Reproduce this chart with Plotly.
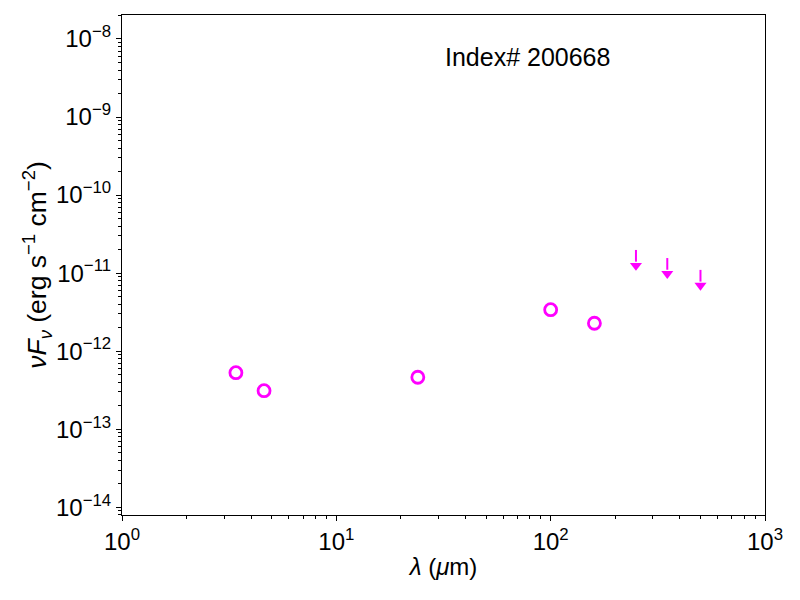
import numpy as np
import plotly.graph_objects as go

# detections (micron, erg s^-1 cm^-2)
wave = [3.4, 4.6, 24.0, 100.0, 160.0]
nufnu = [5.3e-13, 3.12e-13, 4.63e-13, 3.40e-12, 2.28e-12]

# upper limits
ul_wave = [250.0, 350.0, 500.0]
ul_nufnu = [1.98e-11, 1.56e-11, 1.10e-11]

# tick labels
x_exp = [0, 1, 2, 3]
y_exp = [-14, -13, -12, -11, -10, -9, -8]

label = 'Index# 200668'
col = '#ff00ff'
arrow_dex = 0.2


def pow_labels(exps):
    return [f'10<sup>{e}</sup>'.replace('-', '−') for e in exps]


fig = go.Figure()

fig.add_trace(go.Scatter(x=wave, y=nufnu, mode='markers',
                         marker=dict(symbol='circle-open', size=12, color=col,
                                     line=dict(width=2.8, color=col)),
                         showlegend=False))

# arrow shafts
ax, ay = [], []
for w, f in zip(ul_wave, ul_nufnu):
    ax += [w, w, None]
    ay += [f, f * 10**(-arrow_dex + 0.05), None]
fig.add_trace(go.Scatter(x=ax, y=ay, mode='lines',
                         line=dict(color=col, width=2), showlegend=False))
# arrow heads
fig.add_trace(go.Scatter(x=ul_wave, y=np.array(ul_nufnu) * 10**(-arrow_dex),
                         mode='markers',
                         marker=dict(symbol='triangle-down', size=10.5, color=col),
                         showlegend=False))

fig.add_annotation(text=label, xref='paper', yref='paper', x=0.630, y=0.916,
                   xanchor='center', yanchor='middle',
                   showarrow=False, font=dict(size=25, color='black'))

axis_common = dict(type='log', showgrid=False, zeroline=False,
                   showline=True, linecolor='black', linewidth=1.2, mirror=True,
                   ticks='outside', ticklen=5, tickwidth=1, tickcolor='black',
                   tickfont=dict(size=24, color='black'),
                   minor=dict(ticks='outside', ticklen=3, tickwidth=0.8, dtick='D1',
                              tickcolor='black', showgrid=False))

fig.update_xaxes(range=[0, 3], **axis_common,
                 tickvals=[10**e for e in x_exp], ticktext=pow_labels(x_exp),
                 title=dict(text='<i>λ</i> (<i>μ</i>m)', font=dict(size=24, color='black'),
                            standoff=4))
fig.update_yaxes(range=[-14.099, -7.693], **axis_common,
                 tickvals=[10.0**e for e in y_exp], ticktext=pow_labels(y_exp),
                 title=dict(text='<i>νF<sub>ν</sub></i> (erg s<sup>−1</sup> cm<sup>−2</sup>)',
                            font=dict(size=26.5, color='black'), standoff=0))

# page body has an 8px margin, so the figure is made 8px smaller
fig.update_layout(width=792, height=592,
                  margin=dict(l=114, r=34.5, t=7, b=85, autoexpand=False),
                  plot_bgcolor='white', paper_bgcolor='white',
                  font=dict(family='Liberation Sans, Arial, sans-serif', color='black'))

fig.write_html('out.html')
